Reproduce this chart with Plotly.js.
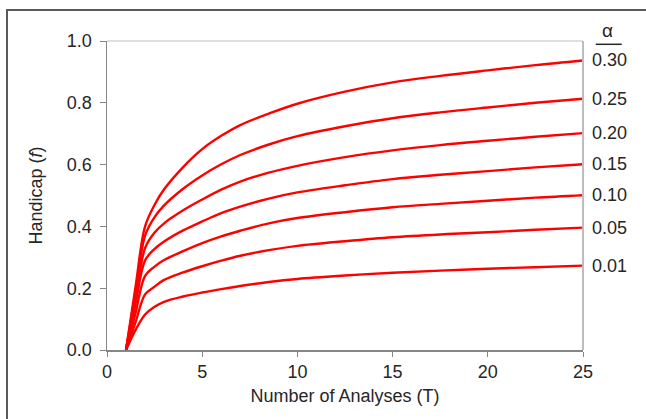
<!DOCTYPE html>
<html>
<head>
<meta charset="utf-8">
<script src="https://cdn.plot.ly/plotly-3.0.1.min.js"></script>
<style>
  html, body { margin: 0; padding: 0; background: #fff; }
  #wrap { position: relative; width: 646px; height: 419px; overflow: hidden; }
  #chart { width: 646px; height: 419px; }
  #frame { position: absolute; left: 6px; top: 9px; width: 700px; height: 500px;
           border-top: 2px solid #5a5a5a; border-left: 2px solid #5a5a5a; pointer-events: none; }
</style>
</head>
<body>
<div id="wrap">
  <div id="chart"></div>
  <div id="frame"></div>
</div>
<script>
// Number of analyses (T) at which values were read
var T = [1, 1.5, 2, 2.5, 3, 4, 5, 6, 7, 8.5, 10, 12.5, 15, 17.5, 20, 22.5, 25];

// Handicap f for each alpha
var alphaLabels = ['0.30', '0.25', '0.20', '0.15', '0.10', '0.05', '0.01'];
var f030 = [0, 0.205, 0.40, 0.47, 0.52, 0.592, 0.65, 0.693, 0.728, 0.765, 0.797, 0.836, 0.866, 0.887, 0.905, 0.922, 0.937];
var f025 = [0, 0.19, 0.37, 0.43, 0.468, 0.522, 0.565, 0.601, 0.631, 0.665, 0.692, 0.724, 0.75, 0.769, 0.785, 0.80, 0.813];
var f020 = [0, 0.17, 0.33, 0.38, 0.41, 0.452, 0.487, 0.519, 0.545, 0.574, 0.596, 0.624, 0.646, 0.663, 0.677, 0.69, 0.702];
var f015 = [0, 0.15, 0.29, 0.327, 0.351, 0.387, 0.416, 0.443, 0.464, 0.49, 0.51, 0.533, 0.553, 0.567, 0.579, 0.591, 0.601];
var f010 = [0, 0.12, 0.24, 0.27, 0.291, 0.32, 0.346, 0.368, 0.386, 0.41, 0.427, 0.446, 0.462, 0.473, 0.483, 0.493, 0.501];
var f005 = [0, 0.09, 0.18, 0.205, 0.227, 0.251, 0.271, 0.289, 0.305, 0.323, 0.337, 0.352, 0.365, 0.374, 0.381, 0.389, 0.396];
var f001 = [0, 0.065, 0.115, 0.14, 0.156, 0.173, 0.186, 0.197, 0.207, 0.22, 0.23, 0.241, 0.25, 0.257, 0.263, 0.268, 0.273];

var series = [f030, f025, f020, f015, f010, f005, f001];

var xTicks = [0, 5, 10, 15, 20, 25];
var yTicks = [0, 0.2, 0.4, 0.6, 0.8, 1.0];
var yTickText = ['0.0', '0.2', '0.4', '0.6', '0.8', '1.0'];

var font = 'Liberation Sans, Arial, sans-serif';
var textColor = '#262626';
var fs = 18;

var traces = series.map(function (s, i) {
  return {
    x: T, y: s, type: 'scatter', mode: 'lines',
    name: alphaLabels[i],
    line: { color: '#ff0000', width: 2.4, shape: 'spline', smoothing: 1 },
    hoverinfo: 'skip'
  };
});

var annotations = series.map(function (s, i) {
  return {
    x: T[T.length - 1], y: s[s.length - 1], xref: 'x', yref: 'y',
    text: alphaLabels[i], showarrow: false, xanchor: 'left', yanchor: 'middle',
    xshift: 7, font: { family: font, size: fs, color: textColor }
  };
});
annotations.push({
  x: 1.0525, y: 1.034, xref: 'paper', yref: 'paper', text: 'α',
  showarrow: false, xanchor: 'center', yanchor: 'middle',
  font: { family: font, size: 19, color: textColor }
});

var layout = {
  width: 646, height: 419,
  margin: { l: 107, r: 63, t: 41, b: 69, pad: 0 },
  paper_bgcolor: 'rgba(0,0,0,0)', plot_bgcolor: '#fff',
  showlegend: false,
  font: { family: font, size: fs, color: textColor },
  xaxis: {
    range: [0, 25], tickvals: xTicks, ticktext: xTicks.map(String),
    ticks: 'outside', ticklen: 5, tickcolor: '#868686', tickwidth: 1,
    showline: true, linecolor: '#868686', linewidth: 1.5,
    showgrid: false, zeroline: false,
    tickfont: { family: font, size: fs, color: textColor },
    title: { text: 'Number of Analyses (T)', font: { family: font, size: fs, color: textColor }, standoff: 8 }
  },
  yaxis: {
    range: [0, 1], tickvals: yTicks, ticktext: yTickText,
    ticks: 'outside', ticklen: 6, tickcolor: '#868686', tickwidth: 1,
    showline: true, linecolor: '#868686', linewidth: 1.5,
    showgrid: false, zeroline: false, ticklabelstandoff: 4,
    tickfont: { family: font, size: fs, color: textColor },
    title: { text: 'Handicap (<i>f</i>)', font: { family: font, size: fs, color: textColor }, standoff: 19 }
  },
  shapes: [
    { type: 'line', xref: 'paper', yref: 'paper', x0: 0, x1: 1, y0: 1, y1: 1,
      line: { color: '#d4d4d4', width: 1.5 } },
    { type: 'line', xref: 'paper', yref: 'paper', x0: 1, x1: 1, y0: 0, y1: 1,
      line: { color: '#bdbdbd', width: 2 } },
    { type: 'line', xref: 'paper', yref: 'paper', x0: 1.0267, x1: 1.0813, y0: 0.9893, y1: 0.9893,
      line: { color: '#262626', width: 1.5 } }
  ],
  annotations: annotations
};

Plotly.newPlot('chart', traces, layout, { displayModeBar: false, staticPlot: true });
</script>
</body>
</html>
